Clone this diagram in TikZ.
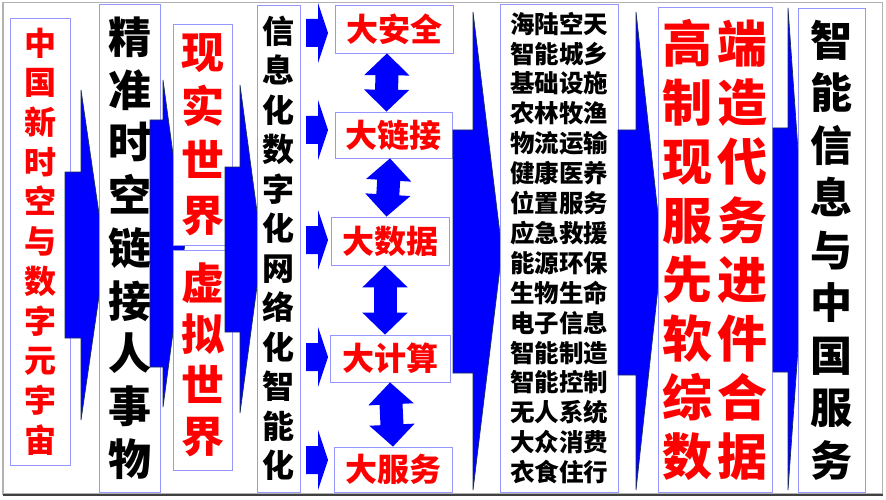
\documentclass[tikz,border=0pt]{standalone}
\usepackage{fontspec}
\newfontfamily\cjk{Noto Sans CJK SC}
\usetikzlibrary{arrows.meta}
\definecolor{arrowblue}{RGB}{0,0,255}
\definecolor{arrowedge}{RGB}{25,45,90}
\definecolor{panelblue}{RGB}{150,150,255}
\definecolor{txtred}{RGB}{255,0,0}
\newcommand\hz[2]{\cjk\bfseries\fontsize{#1}{#2}\selectfont}
\tikzset{
    panel/.style={draw=panelblue, fill=white, line width=0.7pt, inner sep=0pt, align=center},
    bigarrow/.style={fill=arrowblue, draw=arrowedge, line width=0.7pt},
    twoway/.style={arrowblue, line width=23pt,
        {Triangle[width=44pt,length=22pt]}-{Triangle[width=44pt,length=22pt]}},
}
\begin{document}
\begin{tikzpicture}[x=1pt, y=-1pt]
    \useasboundingbox (0,0) rectangle (886,500);
    % frame
    \draw[gray!60, line width=1.2pt] (3,2.5) rectangle (882.5,494);
    \draw[black!75, line width=2pt] (3,495) -- (883,495);
    % column 1
    \node[panel, minimum width=60pt, minimum height=447pt, text=txtred, font=\hz{32}{39.7}]
        (zhongguo) at (40,241.5) {中\\国\\新\\时\\空\\与\\数\\字\\元\\宇\\宙};
    \draw[bigarrow] (65,172) -- (81,172) -- (81,90) -- (105,255) -- (81,420) -- (81,338) -- (65,338) -- cycle;
    % column 2
    \node[panel, minimum width=61pt, minimum height=488pt, font=\hz{43}{52.75}]
        (jingzhun) at (129.5,248) {精\\准\\时\\空\\链\\接\\人\\事\\物};
    \draw[bigarrow] (150,120) -- (163,120) -- (163,80) -- (185,243) -- (163,407) -- (163,367) -- (150,367) -- cycle;
    % column 3
    \node[panel, minimum width=59pt, minimum height=221pt, text=txtred, font=\hz{43}{54.3}]
        (xianshi) at (202.5,134.5) {现\\实\\世\\界};
    \node[panel, minimum width=59pt, minimum height=220pt, text=txtred, font=\hz{43}{51}]
        (xuni) at (202.5,360) {虚\\拟\\世\\界};
    \draw[bigarrow] (225,167) -- (240,167) -- (240,85) -- (262,249) -- (240,413) -- (240,332) -- (225,332) -- cycle;
    % column 4
    \node[panel, minimum width=43pt, minimum height=487pt, font=\hz{32}{39.5}]
        (xinxi) at (278.5,248.5) {信\\息\\化\\数\\字\\化\\网\\络\\化\\智\\能\\化};
    \foreach \cy in {33,130,240,357,460}
        \fill[arrowblue] (306,{\cy-14}) -- (318,{\cy-14}) -- (318,{\cy-30}) -- (328,\cy)
            -- (318,{\cy+30}) -- (318,{\cy+14}) -- (306,{\cy+14}) -- cycle;
    % column 5
    \begin{scope}[every node/.style={panel, text=txtred, font=\hz{32}{32}}]
        \node[minimum width=118pt, minimum height=48pt] (anquan) at (394,29) {大安全};
        \node[minimum width=117pt, minimum height=46pt] (lianjie) at (393.5,135) {大链接};
        \node[minimum width=118pt, minimum height=48pt] (shuju) at (390,241) {大数据};
        \node[minimum width=120pt, minimum height=47pt] (jisuan) at (390,358.5) {大计算};
        \node[minimum width=118pt, minimum height=45pt] (fuwu) at (393,469.5) {大服务};
    \end{scope}
    \draw[twoway] ([xshift=-7pt]anquan.south) -- ([xshift=-7pt]lianjie.north);
    \draw[twoway] ([xshift=-3.5pt]lianjie.south) -- ([xshift=-3.5pt]shuju.north);
    \draw[twoway] ([xshift=-5pt]shuju.south) -- ([xshift=-5pt]jisuan.north);
    \draw[twoway] (jisuan.south) -- (fuwu.north);
    \draw[bigarrow] (453,130) -- (473,130) -- (473,12) -- (502,251) -- (473,490) -- (473,373) -- (453,373) -- cycle;
    % column 6
    \node[panel, minimum width=118pt, minimum height=488pt, font=\hz{24.5}{29.9}]
        (hangye) at (559,248) {海陆空天\\智能城乡\\基础设施\\农林牧渔\\物流运输\\健康医养\\位置服务\\应急救援\\
        能源环保\\生物生命\\电子信息\\智能制造\\智能控制\\无人系统\\大众消费\\衣食住行};
    \draw[bigarrow] (618,130) -- (636,130) -- (636,12) -- (662,251) -- (636,490) -- (636,375) -- (618,375) -- cycle;
    % column 7
    \node[panel, minimum width=114pt, minimum height=485pt, text=txtred, font=\hz{50}{59}]
        (gaoduan) at (715,249.5) {高\hspace{5pt}端\\制\hspace{5pt}造\\现\hspace{5pt}代\\服\hspace{5pt}务\\
        先\hspace{5pt}进\\软\hspace{5pt}件\\综\hspace{5pt}合\\数\hspace{5pt}据};
    \draw[bigarrow] (773,128) -- (788,128) -- (788,8) -- (805,250) -- (788,490) -- (788,372) -- (773,372) -- cycle;
    % column 8
    \node[panel, minimum width=67pt, minimum height=484pt, font=\hz{42}{52.5}]
        (zhineng) at (831.5,250) {智\\能\\信\\息\\与\\中\\国\\服\\务};
\end{tikzpicture}
\end{document}
